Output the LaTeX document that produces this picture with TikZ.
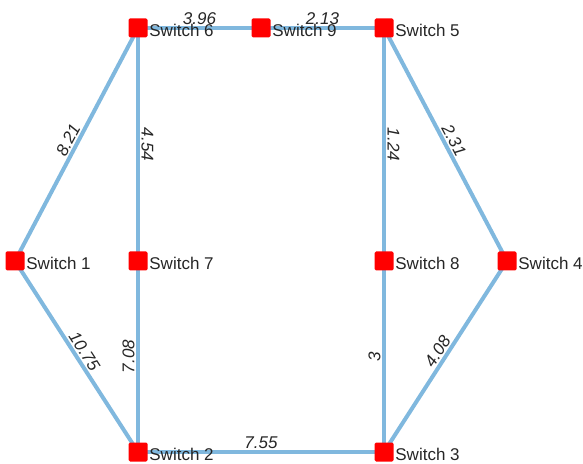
\documentclass[tikz,border=0pt]{standalone}
\usepackage{fontspec}
\setmainfont{Liberation Sans}
\usetikzlibrary{backgrounds}
\definecolor{edgeblue}{RGB}{128,184,222}
\definecolor{txtgray}{RGB}{38,38,38}
\begin{document}
\begin{tikzpicture}[x=1pt,y=1pt,font=\fontsize{17}{20}\selectfont,label distance=1.5pt,
	sw/.style={rectangle,fill=red,minimum size=19pt,inner sep=0pt,rounded corners=1.5pt,label={[swtext]right:#1}},
	swtext/.style={text=txtgray,inner sep=0pt,yshift=-2pt},
	link/.style={draw=edgeblue,line width=4pt},
	wt/.style={sloped,above,inner sep=0pt,outer sep=3.5pt,text=txtgray,font=\fontsize{17}{20}\selectfont\itshape}]
	\useasboundingbox (0,0) rectangle (583,463);
	\node[sw=Switch 1] (s1) at (15,202) {};
	\node[sw=Switch 2] (s2) at (138,11) {};
	\node[sw=Switch 3] (s3) at (384,11) {};
	\node[sw=Switch 4] (s4) at (507,202) {};
	\node[sw=Switch 5] (s5) at (384,435) {};
	\node[sw=Switch 6] (s6) at (138,435) {};
	\node[sw=Switch 7] (s7) at (138,202) {};
	\node[sw=Switch 8] (s8) at (384,202) {};
	\node[sw=Switch 9] (s9) at (261,435) {};
	\begin{pgfonlayer}{background}
		\draw[link] (s1.center) -- node[wt] {8.21} (s6.center);
		\draw[link] (s1.center) -- node[wt] {10.75} (s2.center);
		\draw[link] (s6.center) -- node[wt] {3.96} (s9.center);
		\draw[link] (s9.center) -- node[wt] {2.13} (s5.center);
		\draw[link] (s6.center) -- node[wt] {4.54} (s7.center);
		\draw[link] (s2.center) -- node[wt] {7.08} (s7.center);
		\draw[link] (s5.center) -- node[wt] {1.24} (s8.center);
		\draw[link] (s3.center) -- node[wt] {3} (s8.center);
		\draw[link] (s5.center) -- node[wt] {2.31} (s4.center);
		\draw[link] (s3.center) -- node[wt] {4.08} (s4.center);
		\draw[link] (s2.center) -- node[wt] {7.55} (s3.center);
	\end{pgfonlayer}
\end{tikzpicture}
\end{document}
